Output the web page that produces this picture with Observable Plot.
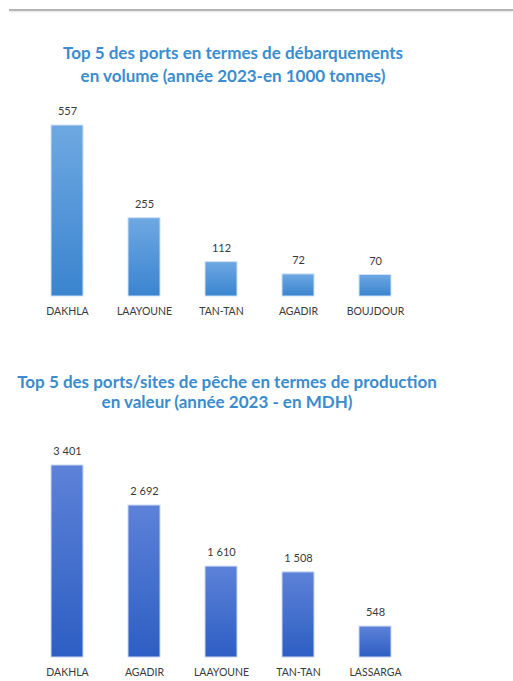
<!DOCTYPE html>
<html>
<head>
<meta charset="utf-8">
<script src="https://cdn.jsdelivr.net/npm/d3@7"></script>
<script src="https://cdn.jsdelivr.net/npm/@observablehq/plot@0.6"></script>
<style>
  html, body { margin: 0; padding: 0; background: #fff; }
  body { width: 513px; height: 681px; position: relative; overflow: hidden; font-family: Lato, "Open Sans", sans-serif; }
  .rule { position: absolute; top: 9px; left: 9px; right: 0; height: 2px; background: #b4b4b4; box-shadow: 0 1px 2px rgba(0,0,0,0.12); }
  .title { position: absolute; left: 0; text-align: center; font-weight: 700; font-size: 17px; color: #3a8dcf; white-space: nowrap; }
  #t1 { top: 41px; width: 466px; line-height: 23px; }
  #t2 { top: 372px; width: 454px; line-height: 20px; color: #3a8ccd; }
  .chart { position: absolute; left: 0; }
  #c1 { top: 90px; }
  #c2 { top: 430px; }
</style>
</head>
<body>
<div class="rule"></div>
<div class="title" id="t1">Top 5 des ports en termes de débarquements<br>en volume (année 2023-en 1000 tonnes)</div>
<div class="title" id="t2">Top 5 des ports/sites de pêche en termes de production<br>en valeur (année 2023 - en MDH)</div>
<div class="chart" id="c1"></div>
<div class="chart" id="c2"></div>
<script>
// Chart 1 data: landings volume (1000 t), 2023
const ports1 = ["DAKHLA", "LAAYOUNE", "TAN-TAN", "AGADIR", "BOUJDOUR"];
const volumes = [557, 255, 112, 72, 70];
// Chart 2 data: production value (MDH), 2023
const ports2 = ["DAKHLA", "AGADIR", "LAAYOUNE", "TAN-TAN", "LASSARGA"];
const values = [3401, 2692, 1610, 1508, 548];

const fr = d3.formatLocale({decimal: ",", thousands: " ", grouping: [3], currency: ["", ""]});
const fmt = fr.format(",d");

function gradient(id, top, bottom) {
  return () => {
    const defs = d3.create("svg:defs");
    const g = defs.append("linearGradient").attr("id", id).attr("x1", 0).attr("y1", 0).attr("x2", 0).attr("y2", 1);
    g.append("stop").attr("offset", "0%").attr("stop-color", top);
    g.append("stop").attr("offset", "100%").attr("stop-color", bottom);
    return defs.node();
  };
}

function makeChart(cats, vals, opts) {
  const data = cats.map((c, i) => ({port: c, v: vals[i]}));
  return Plot.plot({
    width: 513,
    height: opts.height,
    marginLeft: 3,
    marginRight: 74,
    marginTop: 35,
    marginBottom: opts.height - opts.bottom,
    x: {domain: cats, padding: 0.59, label: null},
    y: {domain: [0, d3.max(vals)], nice: false, axis: null},
    style: {fontFamily: "Lato, 'Open Sans', sans-serif", background: "white", overflow: "visible"},
    marks: [
      gradient(opts.gid, opts.top, opts.bot),
      Plot.barY(data, {x: "port", y: "v", fill: `url(#${opts.gid})`, stroke: opts.edge, strokeWidth: 1}),
      Plot.text(data, {x: "port", y: "v", text: d => fmt(d.v), dy: -14, fontSize: 11, fill: "#3a3a3a"}),
      Plot.axisX({tickSize: 0, tickPadding: 11, fontSize: 10.5, color: "#3a3a3a", label: null})
    ]
  });
}

document.getElementById("c1").append(makeChart(ports1, volumes, {height: 230, bottom: 206, gid: "g1", top: "#6ea8e2", bot: "#3a84cf", edge: "#cfe1f4"}));
document.getElementById("c2").append(makeChart(ports2, values, {height: 251, bottom: 227, gid: "g2", top: "#5d82d8", bot: "#2d5ec3", edge: "#cdd8f2"}));
</script>
</body>
</html>
